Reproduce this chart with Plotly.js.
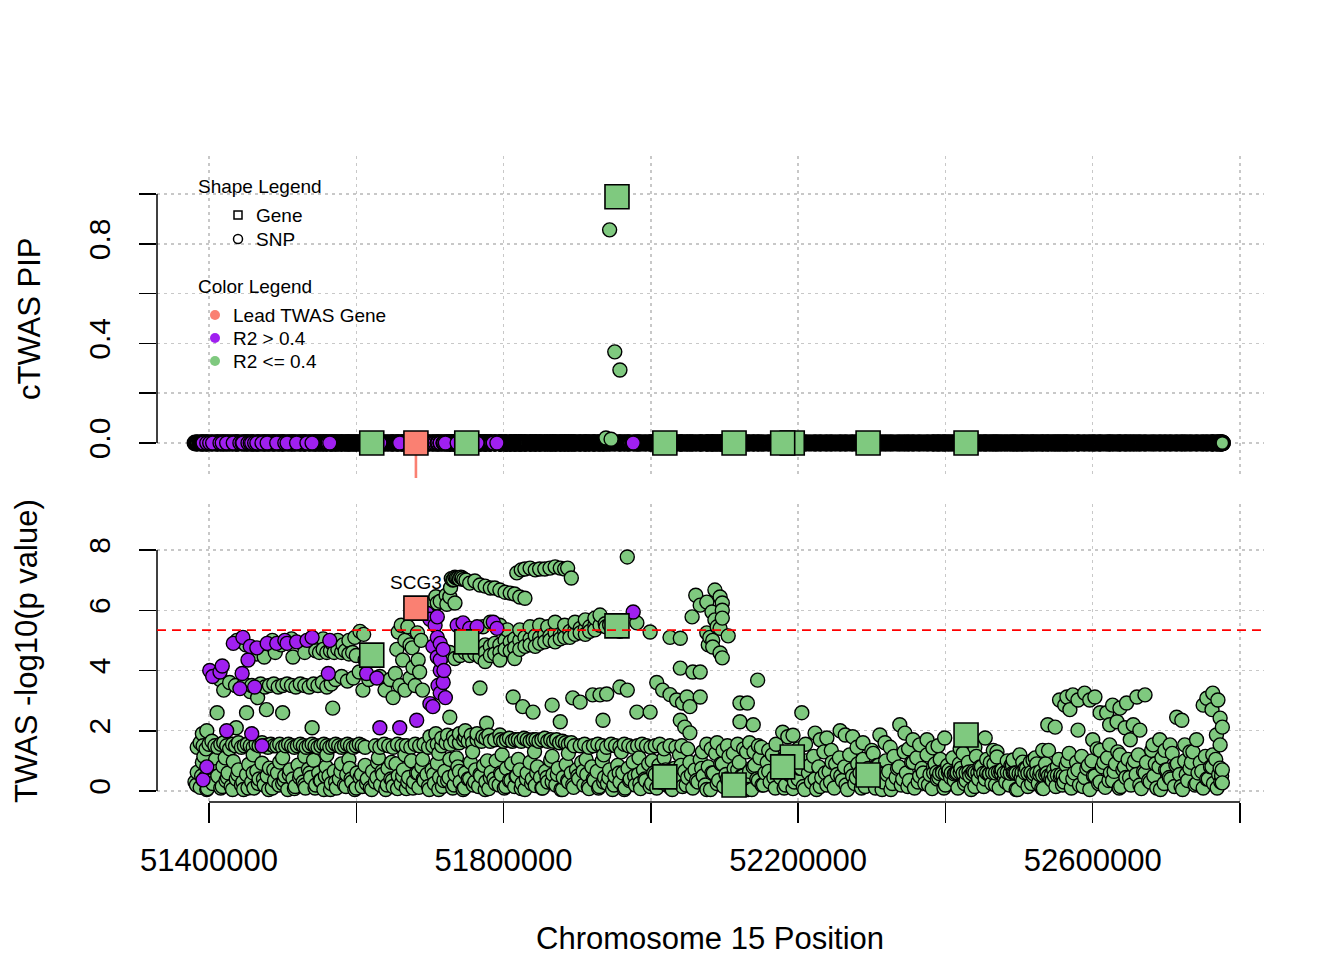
<!DOCTYPE html>
<html><head><meta charset="utf-8">
<script src="https://cdn.plot.ly/plotly-3.0.1.min.js"></script>
<style>html,body{margin:0;padding:0;background:#fff}#chart{width:1344px;height:960px}</style>
</head><body><div id="chart"></div>
<script>
// ---------- DATA (positions in kb on chromosome 15) ----------
// SNPs with R2 <= 0.4 : low layer
const lowKb = [
51381,51384,51388,51391,51395,51398,51402,51405,51409,51412,
51416,51419,51423,51426,51430,51433,51437,51440,51444,51447,
51451,51454,51458,51461,51465,51468,51472,51475,51479,51482,
51486,51489,51493,51496,51500,51503,51507,51510,51514,51517,
51521,51524,51528,51531,51535,51538,51542,51545,51549,51552,
51556,51559,51563,51566,51570,51573,51577,51580,51584,51587,
51591,51594,51598,51601,51605,
51608,51612,51615,51619,51622,51626,51629,51633,51636,51640,
51643,51647,51650,51654,51657,51661,51664,51668,51671,51675,
51678,51682,51685,51689,51692,51696,51699,51703,51706,51710,
51713,51717,51720,51724,51727,51731,51734,51738,51741,51745,
51748,51752,51755,51759,51762,51766,51769,51773,51776,51780,
51783,51787,51790,51794,51797,51801,51804,51808,51811,51815,
51818,51822,51825,51829,51832,51836,51839,51843,51846,51850,
51853,51857,51860,51864,51867,51871,51874,51878,51881,51885,
51888,51892,51895,51899,51902,51906,51909,51913,51916,51920,
51923,51927,51930,51934,51937,51941,51944,51948,51951,51955,
51958,51962,51965,51969,51972,51976,51979,51983,51986,51990,
51993,51997,
52001,52004,52008,52011,52015,52018,52022,52025,52029,52032,
52036,52039,52043,52046,52050,52053,52057,52060,52064,52067,
52071,52074,52078,52081,52085,52088,52092,52095,52099,52102,
52106,52109,52113,52116,52120,52123,52127,52130,52134,52137,
52141,52144,52148,52151,52155,52158,52162,52165,52169,52172,
52176,52179,52183,52186,52190,52193,52197,52200,52204,52207,
52211,52214,52218,52221,52225,52228,52232,52235,52239,52242,
52246,52249,52253,52256,52260,52263,52267,52270,52274,52277,
52281,52284,52288,52291,52295,52298,52302,52305,52309,52312,
52316,52319,52323,52326,52330,52333,52337,52340,52344,52347,
52351,52354,52358,52361,52365,52368,52372,52375,52379,52382,
52386,52389,52393,52396,
52400,52403,52407,52410,52414,52417,52421,52424,52428,52431,
52435,52438,52442,52445,52449,52452,52456,52459,52463,52466,
52470,52473,52477,52480,52484,52487,52491,52494,52498,52501,
52505,52508,52512,52515,52519,52522,52526,52529,52533,52536,
52540,52543,52547,52550,52554,52557,52561,52564,52568,52571,
52575,52578,52582,52585,52589,52592,52596,52599,52603,52606,
52610,52613,52617,52620,52624,52627,52631,52634,52638,52641,
52645,52648,52652,52655,52659,52662,52666,52669,52673,52676,
52680,52683,52687,52690,52694,52697,52701,52704,52708,52711,
52715,52718,52722,52725,52729,52732,52736,52739,52743,52746,
52750,52753,52757,52760,52764,52767,52771,52774,52776];
const lowLp = [
0.30,0.62,0.12,0.95,0.45,0.08,0.72,0.25,1.05,0.50,
0.10,0.82,0.35,0.60,0.15,0.98,0.40,0.70,0.20,0.05,
0.55,0.88,0.30,0.10,0.66,0.40,0.92,0.20,0.50,0.76,
0.10,0.35,0.60,0.96,0.25,0.50,0.05,0.70,0.40,0.15,
0.86,0.55,0.30,0.10,0.72,0.45,1.02,0.20,0.60,0.35,
0.05,0.80,0.50,0.25,0.65,0.10,0.40,0.90,0.20,0.55,
0.75,0.30,0.05,0.60,0.45,
0.15,0.85,0.40,0.10,0.65,0.30,0.95,0.20,0.55,0.05,
0.75,0.40,0.15,0.90,0.50,0.25,0.70,0.08,0.45,1.00,
0.30,0.60,0.12,0.80,0.35,0.55,0.05,0.70,0.25,0.92,
0.45,0.15,0.65,0.35,1.05,0.10,0.55,0.80,0.30,0.05,
0.60,0.40,0.95,0.20,0.70,0.15,0.50,0.85,0.30,0.08,
0.62,0.40,1.00,0.20,0.55,0.10,0.75,0.35,0.90,0.15,
0.50,0.70,0.25,0.05,0.60,0.95,0.40,0.18,0.80,0.45,
0.10,0.65,0.30,1.02,0.55,0.20,0.75,0.05,0.45,0.88,
0.30,0.60,0.12,0.70,0.40,0.95,0.20,0.55,0.08,0.80,
0.35,0.65,0.15,1.00,0.45,0.25,0.70,0.05,0.50,0.85,
0.30,0.60,0.10,0.75,0.40,0.95,0.20,0.55,0.08,0.70,
0.35,0.90,
0.25,0.60,0.10,0.85,0.40,1.10,0.20,0.55,0.05,0.75,
0.35,1.20,0.15,0.65,0.45,0.95,0.10,0.70,0.30,1.05,
0.50,0.20,0.80,0.05,0.60,1.25,0.35,0.90,0.15,0.55,
1.15,0.40,0.75,0.10,0.95,0.50,0.25,1.30,0.65,0.05,
0.85,0.40,1.10,0.20,0.60,0.95,0.30,1.20,0.10,0.70,
0.45,1.05,0.20,0.85,0.55,0.08,1.25,0.40,0.75,0.15,
1.00,0.60,0.30,1.15,0.05,0.80,0.45,1.30,0.20,0.65,
0.95,0.10,0.55,1.10,0.35,0.80,0.05,1.20,0.50,0.25,
0.90,0.60,1.05,0.15,0.75,0.40,1.25,0.10,0.85,0.55,
0.30,1.00,0.65,0.05,1.15,0.45,0.80,0.20,1.30,0.60,
0.35,0.95,0.10,1.10,0.50,0.75,0.25,1.20,0.55,0.08,
0.90,0.40,1.05,0.65,
0.20,0.85,0.45,1.10,0.60,0.10,0.75,1.25,0.35,0.95,
0.05,0.65,1.15,0.40,0.80,0.15,1.05,0.55,0.25,0.90,
1.30,0.10,0.70,0.45,1.00,0.20,0.85,0.60,0.05,1.20,
0.35,0.75,0.15,0.95,0.50,1.10,0.25,0.65,0.08,0.90,
1.35,0.40,0.70,0.15,1.05,0.55,0.30,0.85,1.25,0.10,
0.60,0.95,0.20,1.15,0.45,0.75,0.05,1.00,0.50,1.40,
0.30,0.80,0.12,1.10,0.60,0.35,0.90,1.30,0.15,0.70,
0.45,1.05,0.20,0.85,0.55,1.20,0.08,0.65,0.95,0.35,
1.35,0.50,0.10,0.80,1.10,0.25,0.70,0.45,1.25,0.15,
0.90,0.55,0.05,1.00,0.35,0.75,1.30,0.20,0.60,0.95,
0.10,1.15,0.40,0.80,0.25,1.05,0.55,0.30,0.70];

// SNPs with R2 <= 0.4 : second low layer (the dense floor)
const floorKb = [
51383,51390,51397,51404,51411,51418,51425,51432,51439,51446,
51453,51460,51467,51474,51481,51488,51495,51502,51509,51516,
51523,51530,51537,51544,51551,51558,51565,51572,51579,51586,
51593,51600,51607,51614,51621,51628,51635,51642,51649,51656,
51663,51670,51677,51684,51691,51698,51705,51712,51719,51726,
51733,51740,51747,51754,51761,51768,51775,51782,51789,51796,
51803,51810,51817,51824,51831,51838,51845,51852,51859,51866,
51873,51880,51887,51894,51901,51908,51915,51922,51929,51936,
51943,51950,51957,51964,51971,51978,51985,51992,51999,52006,
52013,52020,52027,52034,52041,52048,52055,52062,52069,52076,
52083,52090,52097,52104,52111,52118,52125,52132,52139,52146,
52153,52160,52167,52174,52181,52188,52195,52202,52209,52216,
52223,52230,52237,52244,52251,52258,52265,52272,52279,52286,
52293,52300,52307,52314,52321,52328,52335,52342,52349,52356,
52363,52370,52377,52384,52391,52398,52405,52412,52419,52426,
52433,52440,52447,52454,52461,52468,52475,52482,52489,52496,
52503,52510,52517,52524,52531,52538,52545,52552,52559,52566,
52573,52580,52587,52594,52601,52608,52615,52622,52629,52636,
52643,52650,52657,52664,52671,52678,52685,52692,52699,52706,
52713,52720,52727,52734,52741,52748,52755,52762,52769,52775];
const floorLp = [
0.20,0.50,0.05,0.35,0.65,0.15,0.45,0.05,0.55,0.30,
0.10,0.60,0.25,0.40,0.05,0.70,0.20,0.35,0.55,0.08,
0.45,0.20,0.60,0.10,0.35,0.50,0.05,0.30,0.65,0.15,
0.40,0.10,0.55,0.25,0.05,0.45,0.65,0.20,0.35,0.08,
0.50,0.30,0.10,0.60,0.40,0.15,0.55,0.05,0.35,0.45,
0.20,0.65,0.10,0.40,0.30,0.55,0.05,0.45,0.25,0.60,
0.15,0.35,0.50,0.08,0.40,0.25,0.60,0.10,0.45,0.30,
0.55,0.05,0.35,0.20,0.50,0.65,0.15,0.40,0.10,0.30,
0.45,0.20,0.60,0.05,0.35,0.50,0.25,0.40,0.15,0.55,
0.30,0.70,0.10,0.45,0.85,0.20,0.55,0.35,0.75,0.05,
0.60,0.25,0.90,0.40,0.15,0.70,0.50,0.05,0.80,0.35,
0.20,0.65,0.45,0.95,0.10,0.55,0.30,0.75,0.05,0.85,
0.40,0.15,0.60,0.30,0.90,0.50,0.20,0.70,0.45,0.10,
0.65,0.35,0.85,0.05,0.55,0.25,0.75,0.40,0.15,0.95,
0.30,0.60,0.20,0.80,0.45,0.10,0.70,0.35,0.90,0.25,
0.50,0.15,0.80,0.40,0.95,0.20,0.65,0.30,0.85,0.05,
0.45,0.75,0.25,0.90,0.10,0.60,0.35,0.80,0.20,1.00,
0.40,0.70,0.15,0.85,0.50,0.25,0.95,0.35,0.65,0.10,
0.80,0.45,1.00,0.20,0.60,0.30,0.90,0.05,0.70,0.40,
0.85,0.15,0.55,0.95,0.25,0.65,0.40,0.80,0.10,0.50];

// SNPs with R2 <= 0.4 : tight cluster near 0.6
const denseKb = [
52384,52388,52392,52396,52400,52404,52408,52412,52416,52420,
52424,52428,52432,52436,52440,52444,52448,52452,52456,52460,
52464,52468,52472,52476,52480,52484,52488,52492,52496,52500,
52504,52508,52512,52516,52520,52524,52528,52532,52536,52540,
52544,52548,52552,52556,52560,52564];
const denseLp = [
0.60,0.62,0.58,0.61,0.59,0.63,0.60,0.57,0.61,0.62,
0.59,0.60,0.63,0.58,0.61,0.60,0.62,0.59,0.60,0.57,
0.61,0.60,0.63,0.58,0.60,0.62,0.59,0.61,0.60,0.58,
0.62,0.60,0.59,0.61,0.57,0.60,0.55,0.52,0.55,0.50,
0.53,0.50,0.52,0.48,0.50,0.47];

// SNPs with R2 <= 0.4 : bands around 1-2
const bandKb = [
51384,51388,51392,51396,51400,51404,51408,51412,51416,51420,
51424,51428,51432,51436,51440,51444,51448,51452,51456,51460,
51464,51468,51472,51476,51480,51484,51488,51492,51496,51500,
51504,51508,51512,51516,51520,51524,51528,51532,51536,51540,
51544,51548,51552,51556,51560,51564,51568,51572,51576,51580,
51584,51588,51592,51596,51600,51604,51608,51612,
51626,51632,51638,51644,51650,51656,51662,51668,51674,51680,
51686,51692,51698,51704,51710,51716,51722,51728,51734,51740,
51746,51752,51758,51764,51770,51776,51782,51788,
51700,51708,51716,51724,51732,51740,51748,51756,51764,51772,51780,
51796,51800,51804,51808,51812,51816,51820,51824,51828,51832,
51836,51840,51844,51848,51852,51856,51860,51864,51868,51872,
51876,51880,51884,51888,51892,51896,
51904,51910,51916,51922,51928,51934,51940,51946,51952,51958,
51964,51970,51976,51982,51988,51994,52000,52006,52012,52018,
52026,52034,52042,52050,
51630,51648,51666,51690,51712,51736,51758,51778,51798,51820,
51842,51866,51888,51912,51936,51960,51984,52002,
52070,52076,52082,52090,52098,52104,52112,52118,52126,52134,52140,52146,
52179,52186,52193,52223,52230,52239,52257,52264,52274,52288,
52311,52318,52338,52345,52356,52365,52375,52383,52399,52454,
52470,52492,52505,52519,
52150,52160,52170,52200,52210,52245,52280,52300,52325,52350,
52390,52420,52440,52465];
const bandLp = [
1.45,1.60,1.50,1.40,1.55,1.65,1.50,1.45,1.55,1.60,
1.50,1.40,1.55,1.50,1.60,1.45,1.50,1.55,1.50,1.45,
1.55,1.50,1.60,1.50,1.45,1.55,1.50,1.50,1.55,1.45,
1.50,1.55,1.50,1.45,1.50,1.55,1.50,1.45,1.50,1.55,
1.50,1.45,1.50,1.55,1.50,1.45,1.50,1.55,1.50,1.45,
1.50,1.55,1.50,1.45,1.50,1.55,1.50,1.45,
1.50,1.45,1.55,1.50,1.45,1.55,1.50,1.50,1.45,1.55,
1.50,1.55,1.45,1.50,1.55,1.50,1.60,1.55,1.65,1.60,
1.70,1.65,1.60,1.70,1.65,1.75,1.65,1.70,
1.80,1.90,1.75,1.85,1.80,1.90,1.80,1.85,1.90,1.80,1.85,
1.70,1.65,1.70,1.75,1.65,1.70,1.70,1.65,1.75,1.70,
1.65,1.70,1.70,1.65,1.70,1.75,1.65,1.70,1.65,1.70,
1.60,1.65,1.60,1.55,1.60,1.50,
1.50,1.55,1.45,1.50,1.55,1.50,1.45,1.55,1.50,1.45,
1.55,1.50,1.45,1.50,1.55,1.50,1.45,1.50,1.55,1.40,
1.50,1.45,1.50,1.40,
1.10,0.95,1.20,1.05,1.25,1.10,1.30,1.00,1.20,1.05,
1.30,1.15,1.25,1.05,1.20,1.30,1.10,1.00,
1.30,1.55,1.40,1.60,1.35,1.50,1.25,1.55,1.40,1.60,1.30,1.50,
1.95,1.80,1.85,1.92,1.70,1.76,2.00,1.86,1.80,1.60,
1.86,1.60,2.20,1.92,1.70,1.53,1.70,1.43,1.76,1.76,
1.13,1.03,0.96,1.03,
1.45,1.35,1.55,1.40,1.55,1.35,1.45,1.35,1.45,1.40,
1.50,1.40,1.45,1.35];

// SNPs with R2 <= 0.4 : left-side rows and scattered mid values
const midKb = [
51438,51450,51486,51498,51512,51526,51545,51555,51567,51575,51582,51590,51598,51605,51610,
51465,51475,51490,51514,51530,51545,51550,51555,51560,51565,51570,51575,51580,51585,51590,51595,51600,51612,
51415,51420,51428,51436,51448,51458,51470,51476,51482,51488,51494,51500,51506,51512,51518,
51524,51530,51536,51542,51548,51554,51560,51566,51572,51580,51588,51596,51604,51609,51617,
51456,51466,51397,51391,51411,51437,51451,51478,51500,51540,51568,
51393,51422,51460,51500,51530,51560,51590,
51632,51639,51646,51650,51653,51659,51666,51663,51673,51677,51680,51686,51690,51684,51676,
51655,51666,51673,51657,51670,51661,51683,51688];
const midLp = [
5.00,4.85,5.00,4.85,5.05,4.90,4.95,5.05,4.90,5.00,4.85,5.00,5.10,5.30,5.20,
4.55,4.45,4.60,4.45,4.60,4.65,4.60,4.70,4.60,4.65,4.60,4.70,4.60,4.65,4.55,4.60,4.50,4.35,
3.70,3.35,3.60,3.50,3.55,3.50,3.55,3.45,3.50,3.55,3.45,3.50,3.55,3.50,3.45,
3.55,3.50,3.45,3.55,3.50,3.60,3.45,3.55,3.70,3.80,3.65,3.75,3.95,3.35,3.70,
3.30,3.10,2.00,1.90,2.60,2.10,2.60,2.70,2.60,2.10,2.75,
1.15,1.10,1.20,1.10,1.15,1.20,1.05,
3.80,3.35,3.70,3.10,3.90,3.50,3.35,4.35,3.75,4.10,3.50,3.95,3.35,4.35,4.75,
4.70,5.00,4.85,5.28,5.45,5.50,5.25,5.00];

// SNPs with R2 <= 0.4 : the high block between 51.69 and 52.15 Mb
const peakKb = [
51693,51703,51708,51714,51722,51728,51731,51734,51738,51744,51723,51710,51727,51734,
51729,51732,51736,51740,51742,51746,
51749,51754,51761,51768,51775,51782,51788,51795,51802,51809,51815,51822,51829,
51818,51824,51829,51836,51843,51849,51856,51863,51870,51877,51883,51887,51892,51968,
51754,51761,51768,51775,51782,51788,51795,51802,51809,51815,51822,51829,51836,51843,51849,
51856,51863,51870,51877,51883,51890,51897,51904,51911,51917,51924,51931,51938,51944,
51748,51754,51761,51768,51775,51782,51788,51795,51802,51809,51815,51822,51829,51836,
51843,51849,51856,51863,51870,51877,51883,51890,51897,51904,51911,51917,51924,
51720,51727,51734,51741,51775,51795,51815,
51772,51782,51795,51805,51822,51836,51849,51860,51870,51883,51897,51911,51924,51931,
51981,51999,52026,52040,
52056,52061,52067,52076,52087,52094,52097,52097,52097,52090,52076,52080,52084,52105,
52078,52084,52094,52097,52087,52094,52083,
52040,52057,52067,52008,52016,52026,52035,52043,52053,52067,52049,52040,52046,52053,
52121,52131,52145,52139,52121,52205,
51813,51826,51840,51866,51877,51894,51904,51921,51931,51940,51958,51968,51981,51999,
51935,51768,51727,51777,51748,51795];
const peakLp = [
6.07,6.25,6.45,6.30,6.50,6.75,7.00,7.10,7.07,7.07,6.20,6.24,6.45,6.24,
7.05,7.02,7.08,7.04,7.10,7.02,
7.00,6.90,6.97,6.84,6.80,6.74,6.74,6.67,6.60,6.57,6.54,6.44,6.40,
7.24,7.34,7.37,7.40,7.34,7.37,7.37,7.40,7.44,7.40,7.37,7.40,7.07,7.77,
4.75,4.80,4.70,4.85,4.80,4.90,4.85,5.00,4.95,5.05,5.00,5.10,5.05,5.15,5.10,
5.20,5.15,5.25,5.20,5.30,5.30,5.35,5.40,5.40,5.45,5.50,5.50,5.55,5.50,
4.60,4.50,4.55,4.45,4.60,4.50,4.55,4.60,4.70,4.65,4.75,4.70,4.80,4.85,
4.80,4.90,4.95,5.00,4.95,5.05,5.10,5.10,5.20,5.25,5.20,5.30,5.35,
4.50,4.60,4.40,4.50,4.30,4.35,4.40,
5.45,5.60,5.50,5.35,5.35,5.45,5.50,5.45,5.60,5.50,5.60,5.68,5.74,5.84,
5.58,5.28,5.10,5.07,
5.78,6.50,6.17,6.27,6.67,6.44,6.24,6.00,5.74,5.45,5.25,5.10,5.00,5.15,
4.85,4.78,4.58,4.42,5.68,5.40,5.94,
4.08,3.95,3.95,3.60,3.35,3.20,3.02,2.92,2.80,3.12,3.12,2.35,2.12,1.93,
2.92,2.92,3.68,2.20,2.30,2.60,
3.12,2.80,2.62,2.85,2.30,3.09,2.95,3.19,3.19,3.22,3.45,3.35,2.62,2.62,
2.35,3.42,2.45,2.25,2.00,1.86];

// SNPs with R2 <= 0.4 : right-hand side above 1
const rightKb = [
52532,52539,52549,52555,52562,52565,52573,52580,52580,52589,52596,52603,52569,
52610,52619,52627,52637,52646,52623,52633,52644,52655,52664,52660,52671,
52600,52610,52623,52637,52651,52682,52691,52698,52705,52714,52721,52725,52732,52741,
52750,52755,52763,52770,52762,52773,52776,52768,52773,52763,52773,52776];
const rightLp = [
1.35,2.20,2.12,3.02,2.85,3.12,3.19,3.02,2.02,3.25,3.02,3.12,2.70,
2.60,2.60,2.85,2.75,2.92,2.20,2.30,2.10,2.20,2.02,3.12,3.19,
1.70,1.35,1.53,1.20,1.70,1.53,1.70,1.35,1.53,2.45,2.35,1.53,1.30,1.70,
2.85,3.08,3.25,3.02,2.70,2.42,2.12,1.86,1.53,1.20,0.76,0.27];

// SNPs with R2 > 0.4
const purpleKb = [
51392,51397,51401,51405,51415,51418,51424,51433,51442,51445,51446,51453,51456,51458,
51462,51465,51472,51479,51492,51503,51506,51519,51533,51540,51562,51564,
51614,51628,51632,51659,51682,51700,51714,51718,51714,51710,51714,51704,51710,51696,
51707,51700,51710,51718,51714,51719,51711,51721,51704,
51737,51745,51754,51764,51786,51791,51976];
const purpleLp = [
0.37,0.80,4.00,3.80,3.95,4.15,2.00,4.90,3.40,3.90,5.10,4.35,4.80,1.90,
3.45,4.75,1.50,4.90,4.90,5.00,4.90,4.95,5.00,5.10,3.90,5.00,
3.90,3.75,2.10,2.10,2.35,2.90,3.25,3.60,4.00,4.45,4.90,4.80,5.78,5.90,
5.50,5.70,5.10,4.70,4.35,4.00,3.50,3.10,2.80,
5.50,5.58,5.40,5.45,5.60,5.40,5.94];

// SNPs with a non-zero cTWAS PIP (R2 <= 0.4)
const pipSnpKb  = [51939, 51946, 51944, 51951, 51958];
const pipSnpPip = [0.020, 0.015, 0.856, 0.366, 0.293];
const pipSnpLp  = [5.45, 5.50, 5.52, 5.42, 5.30];
const otherSnpPip = 0;   // every other SNP sits at PIP 0

// Genes
const geneKb  = [51621, 51750, 51954, 52019, 52113, 52192, 52179, 52295, 52428];
const genePip = [0, 0, 0.989, 0, 0, 0, 0, 0, 0];
const geneLp  = [4.51, 4.95, 5.48, 0.47, 0.20, 1.13, 0.80, 0.53, 1.86];
const leadGeneName = 'SCG3';
const leadGeneKb = 51681, leadGenePip = 0, leadGeneLp = 6.07;

const sigThreshold = 5.34;
const xTickVals = [51400000, 51600000, 51800000, 52000000, 52200000, 52400000, 52600000, 52800000];
const xTickText = ['51400000', '', '51800000', '', '52200000', '', '52600000', ''];
const pipTickVals = [0, 0.2, 0.4, 0.6, 0.8, 1.0];
const pipTickText = ['0.0', '', '0.4', '', '0.8', ''];
const lpTickVals = [0, 2, 4, 6, 8];
const lpTickText = ['0', '2', '4', '6', '8'];

// ---------- PLOT ----------
const toBp = a => a.map(v => v * 1000);
const GREEN = '#7FC97F', PURPLE = '#A020F0', SALMON = '#FA8072';
const greenKbAll = [].concat(lowKb, floorKb, denseKb, bandKb, midKb, peakKb, rightKb);
const greenLpAll = [].concat(lowLp, floorLp, denseLp, bandLp, midLp, peakLp, rightLp);
// draw in chromosome order (left to right), as the original plot does
const order = greenKbAll.map((v, i) => i).sort((a, b) => greenKbAll[a] - greenKbAll[b]);
const greenKb = order.map(i => greenKbAll[i]);
const greenLp = order.map(i => greenLpAll[i]);
const pOrder = purpleKb.map((v, i) => i).sort((a, b) => purpleKb[a] - purpleKb[b]);
const purpleKbS = pOrder.map(i => purpleKb[i]);
const purpleLpS = pOrder.map(i => purpleLp[i]);

const snpMarker = (c, w) => ({symbol: 'circle', size: 14, color: c, line: {color: '#000', width: w || 1.4}});
const geneMarker = c => ({symbol: 'square', size: 24, color: c, line: {color: '#000', width: 1.6}});

const traces = [
  // top panel
  {x: toBp(greenKb), y: greenKb.map(() => otherSnpPip), xaxis: 'x', yaxis: 'y', mode: 'markers', marker: snpMarker(GREEN, 3)},
  {x: toBp(pipSnpKb), y: pipSnpPip, xaxis: 'x', yaxis: 'y', mode: 'markers', marker: snpMarker(GREEN)},
  {x: toBp(purpleKbS), y: purpleKbS.map(() => otherSnpPip), xaxis: 'x', yaxis: 'y', mode: 'markers', marker: snpMarker(PURPLE)},
  {x: toBp(geneKb), y: genePip, xaxis: 'x', yaxis: 'y', mode: 'markers', marker: geneMarker(GREEN)},
  {x: [leadGeneKb * 1000], y: [leadGenePip], xaxis: 'x', yaxis: 'y', mode: 'markers', marker: geneMarker(SALMON)},
  // bottom panel
  {x: toBp(greenKb), y: greenLp, xaxis: 'x2', yaxis: 'y2', mode: 'markers', marker: snpMarker(GREEN)},
  {x: toBp(pipSnpKb), y: pipSnpLp, xaxis: 'x2', yaxis: 'y2', mode: 'markers', marker: snpMarker(GREEN)},
  {x: toBp(purpleKbS), y: purpleLpS, xaxis: 'x2', yaxis: 'y2', mode: 'markers', marker: snpMarker(PURPLE)},
  {x: toBp(geneKb), y: geneLp, xaxis: 'x2', yaxis: 'y2', mode: 'markers', marker: geneMarker(GREEN)},
  {x: [leadGeneKb * 1000], y: [leadGeneLp], xaxis: 'x2', yaxis: 'y2', mode: 'markers', marker: geneMarker(SALMON)}
];

const XR = [51329395, 52832589];
const FONT = 'Liberation Sans, Arial, Helvetica, sans-serif';
const GRID = {showgrid: true, gridcolor: '#C8C8C8', gridwidth: 1.4, griddash: '3px,4px', zeroline: false, showline: false};

const px = v => (v - 157) / 1107;   // helpers for layout placement (pixels -> paper)
const py = v => (802 - v) / 646;

function legendText(text, x, y, size) {
  return {xref: 'paper', yref: 'paper', x: px(x), y: py(y), text: text, showarrow: false,
          xanchor: 'left', yanchor: 'middle', font: {size: size || 19, family: FONT, color: '#000'}};
}

const layout = {
  width: 1344, height: 960,
  margin: {l: 157, r: 80, t: 156, b: 158},
  showlegend: false,
  paper_bgcolor: '#fff', plot_bgcolor: '#fff',
  font: {family: FONT, color: '#000'},
  xaxis: Object.assign({domain: [0, 1], anchor: 'y', range: XR, tickmode: 'array', tickvals: xTickVals,
          showticklabels: false, ticks: ''}, GRID),
  yaxis: Object.assign({domain: [0.50155, 1], anchor: 'x', range: [-0.1406, 1.1526], tickmode: 'array',
          tickvals: pipTickVals, ticktext: pipTickText, ticks: 'outside', ticklen: 17, tickwidth: 1.5,
          tickcolor: '#000', tickangle: -90, tickfont: {size: 30, family: FONT}, ticklabelstandoff: 17}, GRID),
  xaxis2: Object.assign({domain: [0, 1], anchor: 'y2', range: XR, tickmode: 'array', tickvals: xTickVals,
          ticktext: xTickText, ticks: 'outside', ticklen: 20, tickwidth: 1.5, tickcolor: '#000',
          tickfont: {size: 31, family: FONT}, ticklabelstandoff: 11}, GRID),
  yaxis2: Object.assign({domain: [0, 0.4613], anchor: 'x2', range: [-0.365, 9.527], tickmode: 'array',
          tickvals: lpTickVals, ticktext: lpTickText, ticks: 'outside', ticklen: 17, tickwidth: 1.5,
          tickcolor: '#000', tickangle: -90, tickfont: {size: 30, family: FONT}, ticklabelstandoff: 17}, GRID),
  shapes: [
    {type: 'line', xref: 'paper', yref: 'y', x0: 0, x1: 0, y0: 0, y1: 1, line: {color: '#000', width: 1.5}},
    {type: 'line', xref: 'paper', yref: 'y2', x0: 0, x1: 0, y0: 0, y1: 8, line: {color: '#000', width: 1.5}},
    {type: 'line', xref: 'x2', yref: 'paper', x0: xTickVals[0], x1: xTickVals[xTickVals.length - 1], y0: 0, y1: 0,
     line: {color: '#000', width: 1.5}},
    {type: 'line', xref: 'paper', yref: 'y2', x0: 0, x1: 1, y0: sigThreshold, y1: sigThreshold,
     line: {color: '#FF0000', width: 1.6, dash: '9px,6px'}},
    {type: 'line', xref: 'x', yref: 'y', layer: 'below', x0: leadGeneKb * 1000, x1: leadGeneKb * 1000, y0: 0, y1: -0.1406,
     line: {color: SALMON, width: 2.6}},
    // legend symbols
    {type: 'rect', xref: 'paper', yref: 'paper', xsizemode: 'pixel', ysizemode: 'pixel', xanchor: px(238), yanchor: py(215),
     x0: -4, x1: 4, y0: -4, y1: 4, line: {color: '#000', width: 1.5}, fillcolor: 'rgba(0,0,0,0)'},
    {type: 'circle', xref: 'paper', yref: 'paper', xsizemode: 'pixel', ysizemode: 'pixel', xanchor: px(238), yanchor: py(239),
     x0: -4.5, x1: 4.5, y0: -4.5, y1: 4.5, line: {color: '#000', width: 1.5}, fillcolor: 'rgba(0,0,0,0)'},
    {type: 'circle', xref: 'paper', yref: 'paper', xsizemode: 'pixel', ysizemode: 'pixel', xanchor: px(215), yanchor: py(315),
     x0: -5, x1: 5, y0: -5, y1: 5, line: {width: 0}, fillcolor: SALMON},
    {type: 'circle', xref: 'paper', yref: 'paper', xsizemode: 'pixel', ysizemode: 'pixel', xanchor: px(215), yanchor: py(338),
     x0: -5, x1: 5, y0: -5, y1: 5, line: {width: 0}, fillcolor: PURPLE},
    {type: 'circle', xref: 'paper', yref: 'paper', xsizemode: 'pixel', ysizemode: 'pixel', xanchor: px(215), yanchor: py(361),
     x0: -5, x1: 5, y0: -5, y1: 5, line: {width: 0}, fillcolor: GREEN}
  ],
  annotations: [
    legendText('Shape Legend', 196, 186),
    legendText('Gene', 254, 215),
    legendText('SNP', 254, 239),
    legendText('Color Legend', 196, 286),
    legendText('Lead TWAS Gene', 231, 315),
    legendText('R2 &gt; 0.4', 231, 338),
    legendText('R2 &lt;= 0.4', 231, 361),
    {xref: 'x2', yref: 'y2', x: leadGeneKb * 1000, y: leadGeneLp, yshift: 26, text: leadGeneName, showarrow: false,
     font: {size: 19, family: FONT, color: '#000'}},
    {xref: 'paper', yref: 'paper', x: px(29), y: py(319), text: 'cTWAS PIP', textangle: -90, showarrow: false,
     xanchor: 'center', yanchor: 'middle', font: {size: 31, family: FONT, color: '#000'}},
    {xref: 'paper', yref: 'paper', x: px(26), y: py(651), text: 'TWAS -log10(p value)', textangle: -90, showarrow: false,
     xanchor: 'center', yanchor: 'middle', font: {size: 31, family: FONT, color: '#000'}},
    {xref: 'paper', yref: 'paper', x: px(710), y: py(938), text: 'Chromosome 15 Position', showarrow: false,
     xanchor: 'center', yanchor: 'middle', font: {size: 31, family: FONT, color: '#000'}}
  ]
};

Plotly.newPlot('chart', traces, layout, {displayModeBar: false, staticPlot: true});
</script></body></html>
